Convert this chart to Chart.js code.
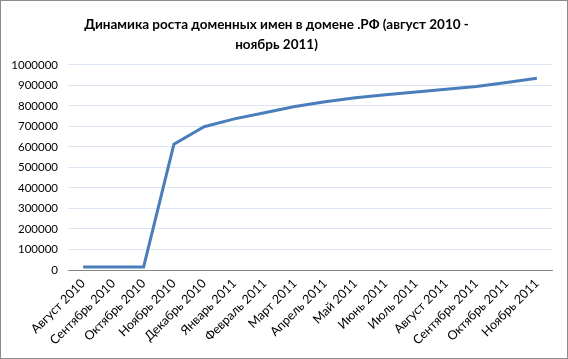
<!DOCTYPE html>
<html>
<head>
<meta charset="utf-8">
<script src="https://cdn.jsdelivr.net/npm/chart.js@4"></script>
<style>
  body { margin: 0; background: #fff; }
  #wrap { width: 568px; height: 359px; box-sizing: border-box; border: 1px solid #8c8c8c; }
  canvas { display: block; }
</style>
</head>
<body>
<div id="wrap"><canvas id="domainChart" width="566" height="357"></canvas></div>
<script>
// Months from August 2010 to November 2011
const months = [
  'Август 2010', 'Сентябрь 2010', 'Октябрь 2010', 'Ноябрь 2010', 'Декабрь 2010',
  'Январь 2011', 'Февраль 2011', 'Март 2011', 'Апрель 2011', 'Май 2011',
  'Июнь 2011', 'Июль 2011', 'Август 2011', 'Сентябрь 2011', 'Октябрь 2011', 'Ноябрь 2011'
];

// Number of registered domains
const domainCounts = [
  15000, 15000, 15000, 613000, 699000,
  737000, 767000, 797000, 821000, 840000,
  855000, 868000, 881000, 895000, 914000, 935000
];

const yTicks = { min: 0, max: 1000000, step: 100000 };

const titleLines = ['Динамика роста доменных имен в домене .РФ (август 2010 -', 'ноябрь 2011)'];

function renderDomainChart() {
  const ctx = document.getElementById('domainChart').getContext('2d');
  return new Chart(ctx, {
    type: 'line',
    data: {
      labels: months,
      datasets: [{
        data: domainCounts,
        borderColor: '#4a7ebb',
        borderWidth: 3,
        pointRadius: 0,
        tension: 0,
        fill: false
      }]
    },
    options: {
      responsive: false,
      animation: false,
      layout: { padding: { left: 0, right: 15, top: 0, bottom: 0 } },
      plugins: {
        legend: { display: false },
        tooltip: { enabled: false },
        title: {
          display: true,
          text: titleLines,
          color: '#000',
          font: { family: 'Lato', size: 13.5, weight: 'bold', lineHeight: 1.48 },
          padding: { top: 14, bottom: 10 }
        }
      },
      scales: {
        x: {
          offset: true,
          grid: { display: false, drawTicks: false },
          border: { color: '#868686', width: 1 },
          ticks: {
            color: '#000',
            font: { family: 'Lato', size: 12.5 },
            maxRotation: 45,
            minRotation: 45,
            autoSkip: false,
            padding: 6
          },
          afterFit: axis => { axis.height = 357 - 269; }
        },
        y: {
          min: yTicks.min,
          max: yTicks.max,
          grid: { color: '#dce6f2', drawTicks: false },
          border: { display: false },
          ticks: {
            stepSize: yTicks.step,
            color: '#000',
            font: { family: 'Lato', size: 11.5 },
            padding: 10,
            callback: v => String(v)
          },
          afterFit: axis => { axis.width = 67; }
        }
      }
    }
  });
}

renderDomainChart();
</script>
</body>
</html>
